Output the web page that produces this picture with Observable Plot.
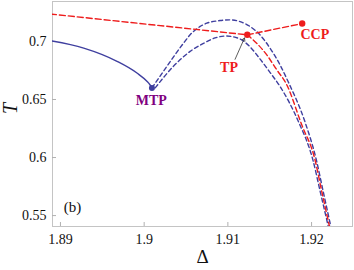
<!DOCTYPE html>
<html>
<head>
<meta charset="utf-8">
<script src="https://cdn.jsdelivr.net/npm/d3@7"></script>
<script src="https://cdn.jsdelivr.net/npm/@observablehq/plot@0.6"></script>
<style>
  html, body { margin: 0; padding: 0; background: #fff; }
</style>
</head>
<body>
<div id="chart"></div>
<script>
// Blue solid branch (ends at MTP)
const solidDelta = [1.8888, 1.89278, 1.89676, 1.89914, 1.90033, 1.90069, 1.90093];
const solidT     = [0.7006, 0.6943, 0.6829, 0.6728, 0.6657, 0.6627, 0.6600];
// Blue dashed outer branch
const outerDelta = [1.90093, 1.90272, 1.90470, 1.90549, 1.90669, 1.90749, 1.90907, 1.91026, 1.91145, 1.91265, 1.91383, 1.91503, 1.91622, 1.91718, 1.91918, 1.92060, 1.92137, 1.92230];
const outerT     = [0.6600, 0.6786, 0.6985, 0.7057, 0.7129, 0.7157, 0.7180, 0.7186, 0.7171, 0.7129, 0.7057, 0.6943, 0.6800, 0.6657, 0.6314, 0.5971, 0.5714, 0.5406];
// Blue dashed inner branch
const innerDelta = [1.90132, 1.90350, 1.90549, 1.90708, 1.90847, 1.90979, 1.91145, 1.91265, 1.91383, 1.91503, 1.91634, 1.91840, 1.92019, 1.92101, 1.92200];
const innerT     = [0.6600, 0.6786, 0.6914, 0.6983, 0.7030, 0.7047, 0.7021, 0.6953, 0.6850, 0.6734, 0.6600, 0.6314, 0.5971, 0.5714, 0.5406];
// Red dashed: upper straight segments (through TP to CCP)
const redTopDelta = [1.8888, 1.91232, 1.91888];
const redTopT     = [0.7236, 0.7057, 0.7154];
// Red dashed: lower branch from TP
const redLowDelta = [1.91232, 1.91344, 1.91463, 1.91583, 1.91702, 1.91880, 1.92039, 1.92120, 1.92214];
const redLowT     = [0.7057, 0.6985, 0.6886, 0.6757, 0.6629, 0.6286, 0.5986, 0.5714, 0.5406];
// Special points
const mtp = {delta: 1.90093, t: 0.6600};
const tp  = {delta: 1.91232, t: 0.7057};
const ccp = {delta: 1.91888, t: 0.7154};
// Labels
const labelNames = ["MTP", "TP", "CCP"];
const labelDelta = [1.90085, 1.91014, 1.92039];
const labelT     = [0.6494, 0.6777, 0.7060];
const arrowFrom = {delta: 1.91086, t: 0.6846};
const arrowTo   = {delta: 1.91199, t: 0.7030};
const panelTag = {text: "(b)", delta: 1.89143, t: 0.5569};
// Ticks
const xTicks = [1.89, 1.9, 1.91, 1.92];
const yTicks = [0.55, 0.6, 0.65, 0.7];

const zip = (xs, ys) => xs.map((x, i) => ({x, y: ys[i]}));
const blue = "#3f3f9f";
const red = "#ee1c1c";
const serif = "Liberation Serif, Times New Roman, serif";

const chart = Plot.plot({
  width: 354,
  height: 270,
  marginLeft: 52,
  marginRight: 2,
  marginTop: 1,
  marginBottom: 44,
  style: {fontFamily: serif, background: "#fff"},
  x: {domain: [1.88905, 1.92489]},
  y: {domain: [0.5406, 0.7344]},
  marks: [
    Plot.frame({stroke: "#c4c4c4"}),
    Plot.axisX({ticks: xTicks, tickFormat: d => String(d), tickSize: -4, tickPadding: 12, fontSize: 14, stroke: "#b0b0b0", color: "#111", label: null}),
    Plot.axisY({ticks: yTicks, tickFormat: d => String(d), tickSize: -4, tickPadding: 10, fontSize: 14, stroke: "#b0b0b0", color: "#111", label: null}),
    Plot.line(zip(solidDelta, solidT), {x: "x", y: "y", stroke: blue, strokeWidth: 1.4, curve: "monotone-x", clip: true}),
    Plot.line(zip(outerDelta, outerT), {x: "x", y: "y", stroke: blue, strokeWidth: 1.4, strokeDasharray: "4,3", curve: "monotone-x", clip: true}),
    Plot.line(zip(innerDelta, innerT), {x: "x", y: "y", stroke: blue, strokeWidth: 1.4, strokeDasharray: "4,3", curve: "monotone-x", clip: true}),
    Plot.line(zip(redTopDelta, redTopT), {x: "x", y: "y", stroke: red, strokeWidth: 1.4, strokeDasharray: "6,3", clip: true}),
    Plot.line(zip(redLowDelta, redLowT), {x: "x", y: "y", stroke: red, strokeWidth: 1.4, strokeDasharray: "5,3", curve: "monotone-x", clip: true}),
    Plot.dot([mtp], {x: "delta", y: "t", r: 3, fill: blue}),
    Plot.dot([tp, ccp], {x: "delta", y: "t", r: 3.2, fill: red}),
    Plot.arrow([{x1: arrowFrom.delta, y1: arrowFrom.t, x2: arrowTo.delta, y2: arrowTo.t}], {x1: "x1", y1: "y1", x2: "x2", y2: "y2", stroke: "#333", strokeWidth: 0.8, headLength: 6}),
    Plot.text(labelNames.map((n, i) => ({n, x: labelDelta[i], y: labelT[i]})), {
      x: "x", y: "y", text: "n", fontSize: 14, fontWeight: "bold",
      fill: d => d.n === "MTP" ? "#800080" : red
    }),
    Plot.text([panelTag], {x: "delta", y: "t", text: "text", fontSize: 15, fill: "#111"}),
    Plot.text(["T"], {frameAnchor: "left", dx: -42, rotate: -90, text: d => d, fontSize: 20, fontStyle: "italic", fill: "#111"}),
    Plot.text(["Δ"], {frameAnchor: "bottom", dy: 36, text: d => d, fontSize: 19, fill: "#111"})
  ]
});
document.getElementById("chart").appendChild(chart);
</script>
</body>
</html>
